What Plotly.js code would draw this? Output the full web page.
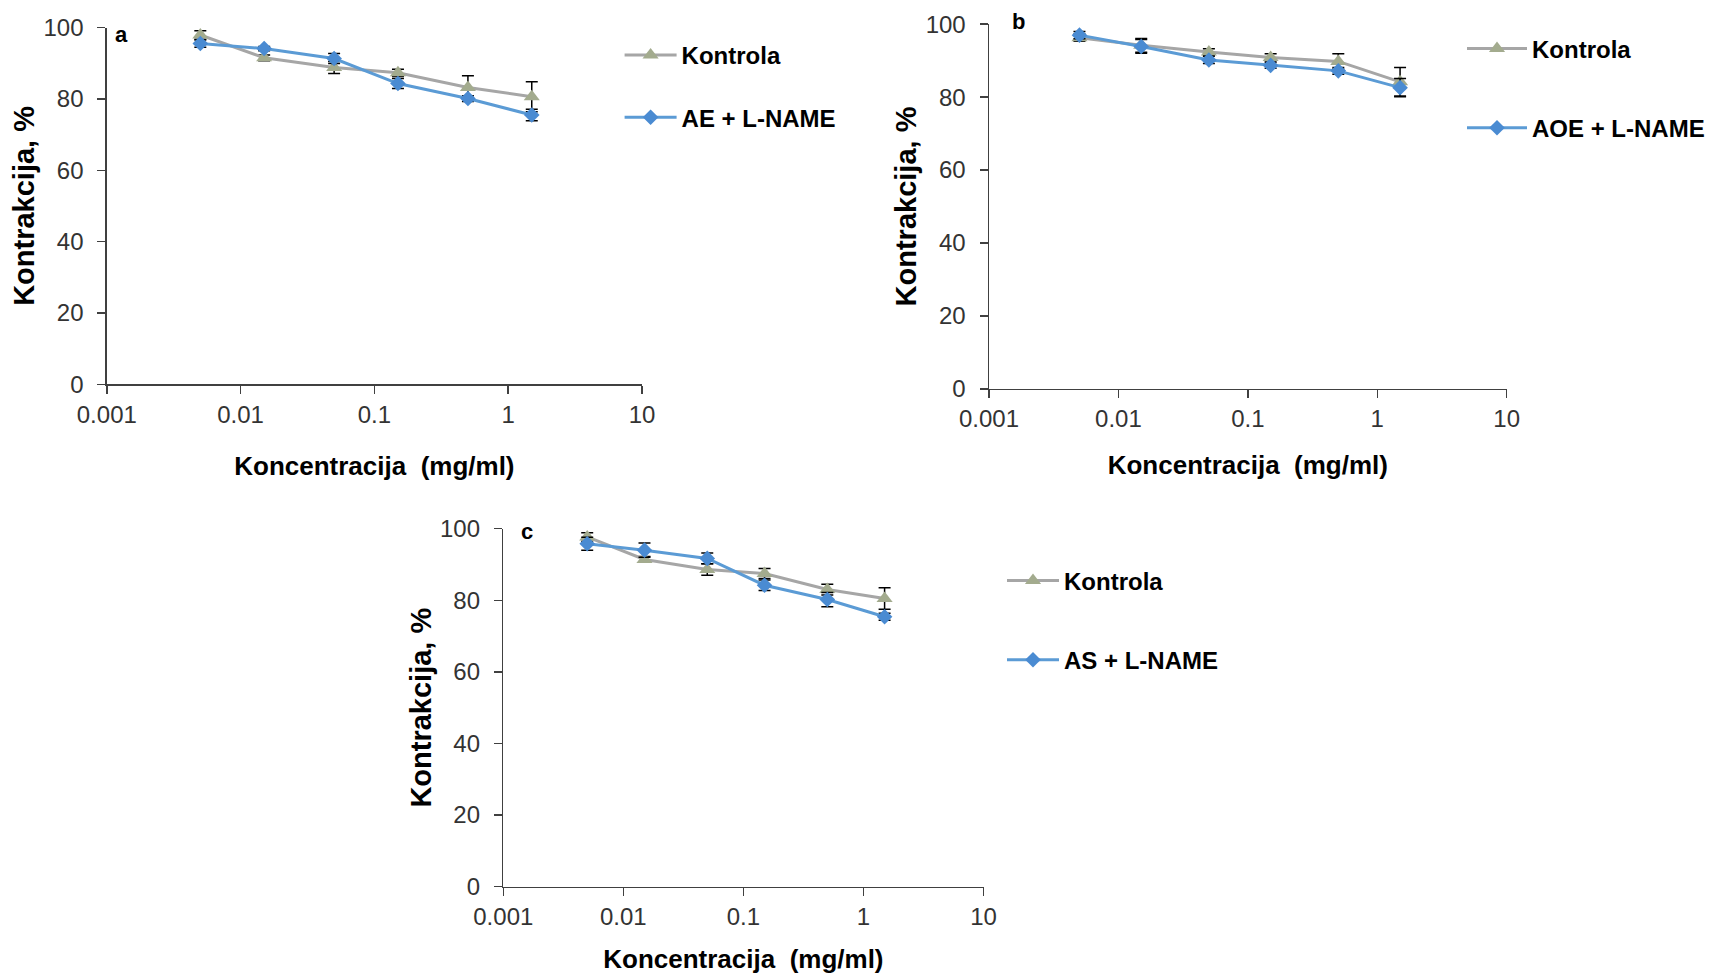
<!DOCTYPE html>
<html>
<head>
<meta charset="utf-8">
<script src="https://cdn.plot.ly/plotly-3.0.1.min.js"></script>
<style>html,body{margin:0;padding:0;background:#fff;}#chart{width:1727px;height:974px;}</style>
</head>
<body>
<div id="chart"></div>
<script>
// Concentrations (mg/ml)
const conc = [0.005, 0.015, 0.05, 0.15, 0.5, 1.5];
const xTickVals = [0.001, 0.01, 0.1, 1, 10];
const xTickText = ["0.001", "0.01", "0.1", "1", "10"];
const yTickVals = [0, 20, 40, 60, 80, 100];

// Panel a
const aKontrola = [97.9, 91.5, 88.8, 87.3, 83.2, 80.6];
const aKontrolaErr = [1.2, 0.8, 1.7, 1.0, 3.3, 4.2];
const aAE = [95.5, 94.1, 91.3, 84.3, 80.1, 75.5];
const aAEErr = [1.0, 0.6, 1.4, 1.4, 0.8, 1.6];
// Panel b
const bKontrola = [96.3, 94.2, 92.4, 90.9, 89.8, 84.2];
const bKontrolaErr = [1.0, 1.9, 0.9, 1.0, 2.1, 3.9];
const bAOE = [97.0, 93.9, 90.2, 88.7, 87.2, 82.6];
const bAOEErr = [1.0, 1.9, 1.0, 0.8, 0.9, 2.5];
// Panel c
const cKontrola = [97.7, 91.4, 88.6, 87.5, 83.0, 80.5];
const cKontrolaErr = [1.2, 0.8, 1.6, 1.4, 1.5, 3.0];
const cAS = [95.8, 94.0, 91.7, 84.2, 80.2, 75.4];
const cASErr = [1.8, 2.0, 1.5, 1.5, 2.0, 1.0];

const seriesNames = {
  k: "Kontrola",
  a: "AE + L-NAME",
  b: "AOE + L-NAME",
  c: "AS + L-NAME"
};
const panelLabels = ["a", "b", "c"];
const xTitle = "Koncentracija  (mg/ml)";
const yTitle = "Kontrakcija, %";

const GRAY_LINE = "#a6a6a6";
const GRAY_MARK = "#a3ab8e";
const BLUE_LINE = "#5b9bd5";
const BLUE_MARK = "#4a8bd2";
const W = 1727, H = 974;
const FAMILY = "Liberation Sans, Arial, sans-serif";

function kTrace(y, err, xa, ya, leg, grp) {
  return {
    x: conc, y: y, type: "scatter", mode: "lines+markers",
    name: seriesNames.k, xaxis: xa, yaxis: ya, legend: leg, legendgroup: grp + "k",
    line: {color: GRAY_LINE, width: 3},
    marker: {symbol: "triangle-up", size: 14, color: GRAY_MARK},
    error_y: {type: "data", array: err, visible: true, color: "#000", thickness: 1.5, width: 6}
  };
}
function bTrace(y, err, name, xa, ya, leg, grp) {
  return {
    x: conc, y: y, type: "scatter", mode: "lines+markers",
    name: name, xaxis: xa, yaxis: ya, legend: leg, legendgroup: grp + "b",
    line: {color: BLUE_LINE, width: 3},
    marker: {symbol: "diamond", size: 12, color: BLUE_MARK},
    error_y: {type: "data", array: err, visible: true, color: "#000", thickness: 1.5, width: 6}
  };
}

const data = [
  kTrace(aKontrola, aKontrolaErr, "x", "y", "legend", "a"),
  bTrace(aAE, aAEErr, seriesNames.a, "x", "y", "legend", "a"),
  kTrace(bKontrola, bKontrolaErr, "x2", "y2", "legend2", "b"),
  bTrace(bAOE, bAOEErr, seriesNames.b, "x2", "y2", "legend2", "b"),
  kTrace(cKontrola, cKontrolaErr, "x3", "y3", "legend3", "c"),
  bTrace(cAS, cASErr, seriesNames.c, "x3", "y3", "legend3", "c")
];

const px = v => v / W;
const py = v => (H - v) / H;

const tickFont = {family: FAMILY, size: 24, color: "#333"};
const xTitleFont = {family: FAMILY, size: 26, color: "#000", weight: "bold"};
const yTitleFont = {family: FAMILY, size: 29, color: "#000", weight: "bold"};

function xAxis(domain, anchor, standoff) {
  return {
    type: "log", range: [-3, 1], domain: domain, anchor: anchor,
    tickvals: xTickVals, ticktext: xTickText,
    showline: true, linecolor: "#404040", linewidth: 1.5,
    ticks: "outside", ticklen: 8, tickwidth: 1.5, tickcolor: "#404040",
    showgrid: false, zeroline: false, tickfont: tickFont,
    title: {text: "<b>" + xTitle + "</b>", font: xTitleFont, standoff: standoff}
  };
}
function yAxis(domain, anchor) {
  return {
    range: [0, 100], domain: domain, anchor: anchor,
    tickvals: yTickVals,
    showline: true, linecolor: "#404040", linewidth: 1.5,
    ticks: "outside", ticklen: 8, tickwidth: 1.5, tickcolor: "#404040",
    ticklabelstandoff: 9,
    showgrid: false, zeroline: false, tickfont: tickFont,
    title: {text: "<b>" + yTitle + "</b>", font: yTitleFont, standoff: 0}
  };
}

const legFont = {family: FAMILY, size: 24, color: "#000", weight: "bold"};
function legend(x, yTop, gap, iw) {
  return {
    x: px(x), y: py(yTop), xanchor: "left", yanchor: "top",
    font: legFont, bgcolor: "rgba(0,0,0,0)", borderwidth: 0,
    traceorder: "grouped", tracegroupgap: gap, itemwidth: iw
  };
}

const labelFont = {family: FAMILY, size: 22, color: "#000"};
const layout = {
  width: W, height: H, autosize: false,
  margin: {l: 0, r: 0, t: 0, b: 0},
  paper_bgcolor: "#fff", plot_bgcolor: "#fff",
  showlegend: true,
  xaxis: xAxis([px(106.8), px(642)], "y", 30),
  yaxis: yAxis([py(384.4), py(27.5)], "x"),
  xaxis2: xAxis([px(989), px(1506.7)], "y2", 24),
  yaxis2: yAxis([py(388.8), py(24.2)], "x2"),
  xaxis3: xAxis([px(503.3), px(983.5)], "y3", 22),
  yaxis3: yAxis([py(886.6), py(528.7)], "x3"),
  legend: legend(619.6, 33, 28, 52),
  legend2: legend(1462, 26.5, 45, 60),
  legend3: legend(1002, 558.5, 45, 52),
  annotations: [
    {text: "<b>" + panelLabels[0] + "</b>", xref: "paper", yref: "paper", x: px(121), y: py(34), showarrow: false, xanchor: "center", yanchor: "middle", font: labelFont},
    {text: "<b>" + panelLabels[1] + "</b>", xref: "paper", yref: "paper", x: px(1019), y: py(22), showarrow: false, xanchor: "center", yanchor: "middle", font: labelFont},
    {text: "<b>" + panelLabels[2] + "</b>", xref: "paper", yref: "paper", x: px(526.5), y: py(531), showarrow: false, xanchor: "center", yanchor: "middle", font: labelFont}
  ]
};

Plotly.newPlot("chart", data, layout, {displayModeBar: false, staticPlot: true});
</script>
</body>
</html>
